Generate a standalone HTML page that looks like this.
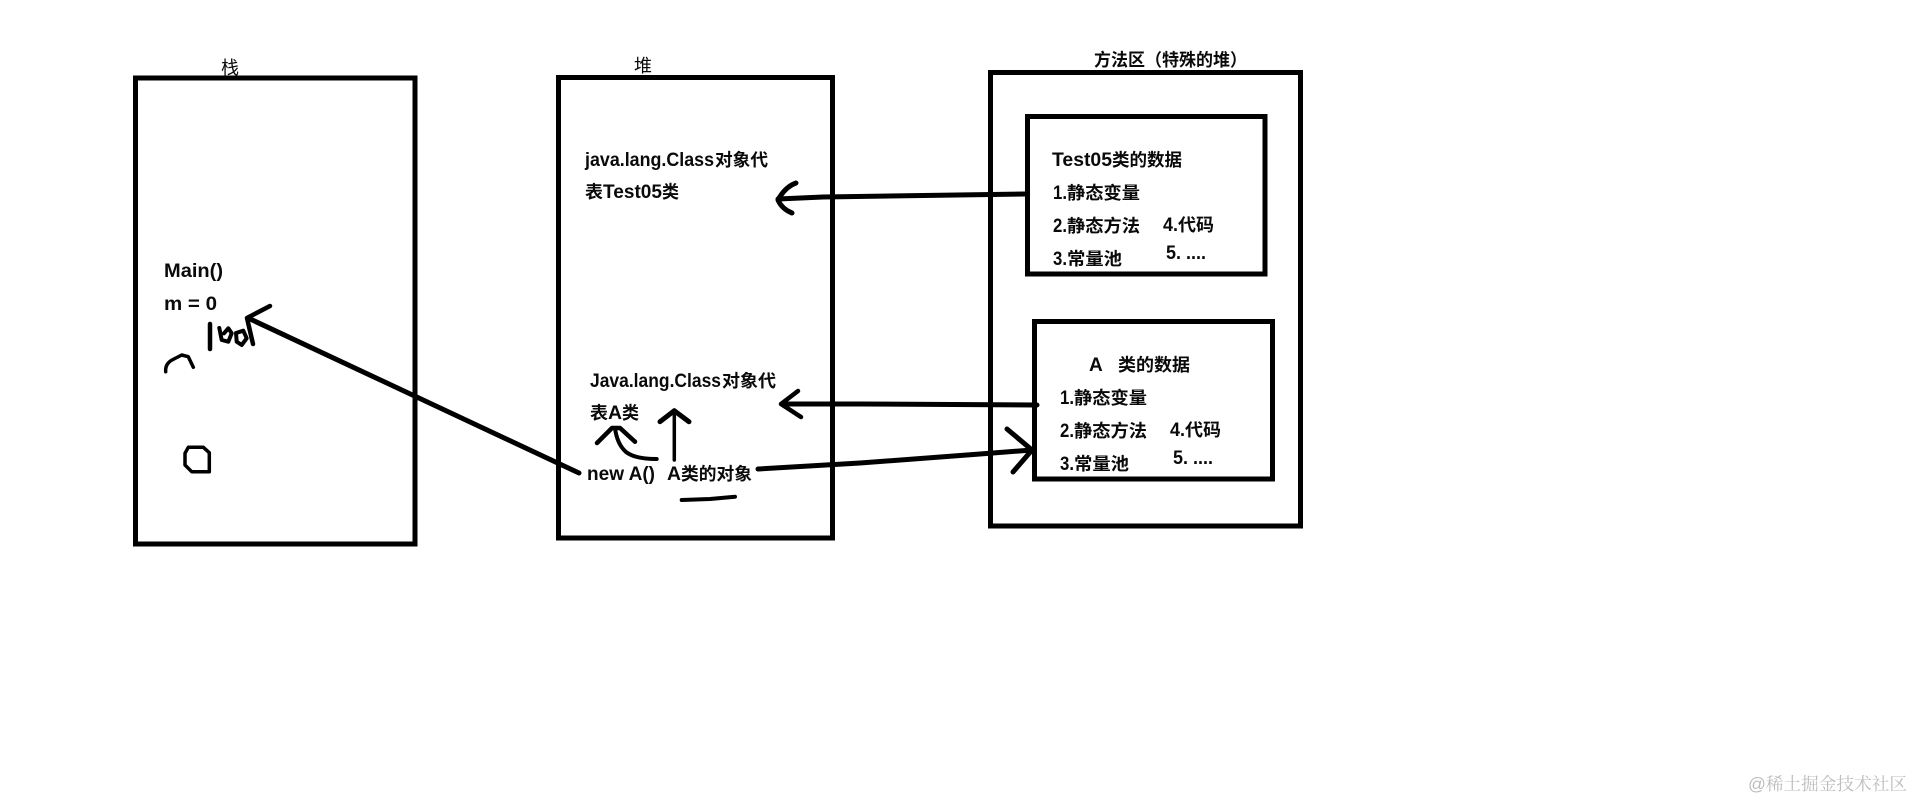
<!DOCTYPE html>
<html lang="zh">
<head>
<meta charset="utf-8">
<title>JVM memory diagram</title>
<style>
html,body{margin:0;padding:0;background:#fff;width:1914px;height:800px;overflow:hidden}
svg{display:block}
text{font-family:"Liberation Sans","Noto Sans CJK SC",sans-serif;fill:#0a0a0a}
.b{font-size:17.5px;font-weight:bold}
.a{font-size:19px;font-weight:bold}
.n{font-size:18px;font-weight:normal}
.box{fill:none;stroke:#000;stroke-width:5}
.l{fill:none;stroke:#000;stroke-linecap:round;stroke-linejoin:round}
</style>
</head>
<body>
<svg width="1914" height="800" viewBox="0 0 1914 800" xmlns="http://www.w3.org/2000/svg">
<rect width="1914" height="800" fill="#fff"/>

<!-- boxes -->
<rect class="box" x="135.5" y="78" width="279.5" height="466"/>
<rect class="box" x="558.5" y="77.5" width="274" height="460.5"/>
<rect class="box" x="990.5" y="72.5" width="310" height="453.5"/>
<rect class="box" x="1027.5" y="116.5" width="237.5" height="157.5"/>
<rect class="box" x="1034.5" y="321.5" width="238" height="157.5"/>

<!-- titles -->
<text class="n" x="221" y="74" textLength="18" lengthAdjust="spacingAndGlyphs">栈</text>
<text class="n" x="634" y="72" textLength="18" lengthAdjust="spacingAndGlyphs">堆</text>
<text class="b" x="1094" y="66" textLength="153" lengthAdjust="spacingAndGlyphs">方法区（特殊的堆）</text>

<!-- stack text -->
<text class="a" x="164" y="277" textLength="59" lengthAdjust="spacingAndGlyphs">Main()</text>
<text class="a" x="164" y="310" textLength="53" lengthAdjust="spacingAndGlyphs">m = 0</text>

<!-- heap text -->
<text class="a" x="585" y="166" textLength="129" lengthAdjust="spacingAndGlyphs">java.lang.Class</text>
<text class="b" x="715" y="166" textLength="53" lengthAdjust="spacingAndGlyphs">对象代</text>
<text class="b" x="585" y="198" textLength="18" lengthAdjust="spacingAndGlyphs">表</text>
<text class="a" x="603" y="198" textLength="59" lengthAdjust="spacingAndGlyphs">Test05</text>
<text class="b" x="662" y="198" textLength="17" lengthAdjust="spacingAndGlyphs">类</text>
<text class="a" x="590" y="387" textLength="131" lengthAdjust="spacingAndGlyphs">Java.lang.Class</text>
<text class="b" x="722" y="387" textLength="54" lengthAdjust="spacingAndGlyphs">对象代</text>
<text class="b" x="590" y="419" textLength="18" lengthAdjust="spacingAndGlyphs">表</text>
<text class="a" x="608" y="419" textLength="14" lengthAdjust="spacingAndGlyphs">A</text>
<text class="b" x="622" y="419" textLength="17" lengthAdjust="spacingAndGlyphs">类</text>
<text class="a" x="587" y="480" textLength="68" lengthAdjust="spacingAndGlyphs">new A()</text>
<text class="a" x="667" y="480" textLength="14" lengthAdjust="spacingAndGlyphs">A</text>
<text class="b" x="681" y="480" textLength="71" lengthAdjust="spacingAndGlyphs">类的对象</text>

<!-- method area 1 -->
<text class="a" x="1052" y="166" textLength="60" lengthAdjust="spacingAndGlyphs">Test05</text>
<text class="b" x="1112" y="166" textLength="70" lengthAdjust="spacingAndGlyphs">类的数据</text>
<text class="a" x="1053" y="199" textLength="14" lengthAdjust="spacingAndGlyphs">1.</text>
<text class="b" x="1067" y="199" textLength="73" lengthAdjust="spacingAndGlyphs">静态变量</text>
<text class="a" x="1053" y="232" textLength="14" lengthAdjust="spacingAndGlyphs">2.</text>
<text class="b" x="1067" y="232" textLength="73" lengthAdjust="spacingAndGlyphs">静态方法</text>
<text class="a" x="1053" y="265" textLength="14" lengthAdjust="spacingAndGlyphs">3.</text>
<text class="b" x="1067" y="265" textLength="55" lengthAdjust="spacingAndGlyphs">常量池</text>
<text class="a" x="1163" y="231" textLength="15" lengthAdjust="spacingAndGlyphs">4.</text>
<text class="b" x="1178" y="231" textLength="36" lengthAdjust="spacingAndGlyphs">代码</text>
<text class="a" x="1166" y="259" textLength="40" lengthAdjust="spacingAndGlyphs">5. ....</text>

<!-- method area 2 -->
<text class="a" x="1089" y="371">A</text>
<text class="b" x="1118" y="371" textLength="72" lengthAdjust="spacingAndGlyphs">类的数据</text>
<text class="a" x="1060" y="404" textLength="14" lengthAdjust="spacingAndGlyphs">1.</text>
<text class="b" x="1074" y="404" textLength="73" lengthAdjust="spacingAndGlyphs">静态变量</text>
<text class="a" x="1060" y="437" textLength="14" lengthAdjust="spacingAndGlyphs">2.</text>
<text class="b" x="1074" y="437" textLength="73" lengthAdjust="spacingAndGlyphs">静态方法</text>
<text class="a" x="1060" y="470" textLength="14" lengthAdjust="spacingAndGlyphs">3.</text>
<text class="b" x="1074" y="470" textLength="55" lengthAdjust="spacingAndGlyphs">常量池</text>
<text class="a" x="1170" y="436" textLength="15" lengthAdjust="spacingAndGlyphs">4.</text>
<text class="b" x="1185" y="436" textLength="36" lengthAdjust="spacingAndGlyphs">代码</text>
<text class="a" x="1173" y="464" textLength="40" lengthAdjust="spacingAndGlyphs">5. ....</text>

<!-- connector: new A() to stack -->
<path class="l" stroke-width="5" d="M579 473 L248 318"/>
<path class="l" stroke-width="4.5" d="M270 306 L247 318 L253 344"/>

<!-- connector: Test05 data to Class object -->
<path class="l" stroke-width="5" d="M1025 194 L823 197 L778 199"/>
<path class="l" stroke-width="5" d="M796 183 Q785 187 778 200 Q782 209 792 213"/>

<!-- connector: A data to Class object -->
<path class="l" stroke-width="5" d="M1037 405 L860 404 L782 404"/>
<path class="l" stroke-width="4.5" d="M798 391 L781 404 L801 417"/>

<!-- connector: A object to A data -->
<path class="l" stroke-width="5" d="M758 469 L860 463 L980 454 L1032 450"/>
<path class="l" stroke-width="5" d="M1007 429 L1032 450 L1013 472"/>

<!-- hand-drawn marks in stack -->
<path class="l" stroke-width="4.5" d="M210 324 L210 349"/>
<path class="l" stroke-width="4" d="M219.3 328 L221.7 340 L228.3 341.7 L231.7 333.3 L228.3 328.3 L224 333.3"/>
<path class="l" stroke-width="4" d="M236 333 L236.7 341.7 L241.7 345 L246.7 338.3 L243.3 330.7 Z"/>
<path class="l" stroke-width="3.5" d="M165.7 371.7 Q165 364 172 360 L181.7 355 L188.3 356.7 L193.3 367.3"/>
<path class="l" stroke-width="3.5" d="M188.3 447.3 L203.3 447.3 L209.3 452.7 L209.3 471.7 L191.7 471.7 L185 465 L185 453.3 Z"/>

<!-- hand-drawn marks in heap -->
<path class="l" stroke-width="3.5" d="M674.3 460 L674.3 411"/>
<path class="l" stroke-width="5" d="M660 421.7 L674.3 410.7 L689 421.7"/>
<path class="l" stroke-width="4" d="M656.7 459 Q635 459 626 452 Q617 444 615 428"/>
<path class="l" stroke-width="4.5" d="M597 443 L612 428 L620 428 L635 441.7"/>
<path class="l" stroke-width="4" d="M681.7 500 L710 499 L735 496.7"/>

<!-- watermark -->
<text x="1748" y="790" font-size="17.5" style="fill:#bdbdbd;font-family:'Liberation Sans','Noto Serif CJK SC',serif" textLength="159" lengthAdjust="spacingAndGlyphs">@稀土掘金技术社区</text>
</svg>
</body>
</html>
